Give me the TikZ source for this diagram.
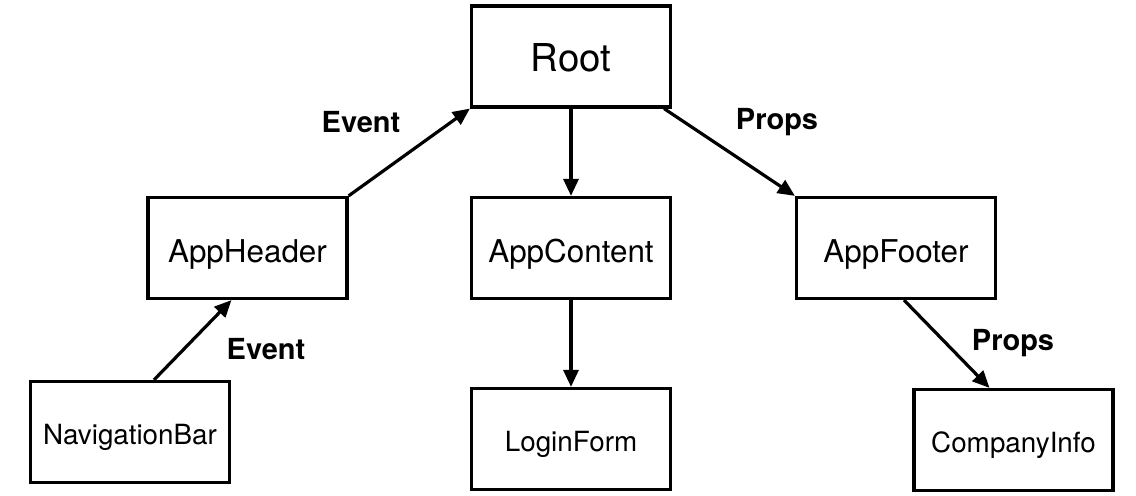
\documentclass[tikz,border=0pt]{standalone}
\usepackage{fontspec}
\setmainfont{TeX Gyre Heros}
\usetikzlibrary{arrows.meta}
\begin{document}
\begin{tikzpicture}[x=0.5pt,y=0.5pt,line width=1.6pt,
	comp/.style={draw,rectangle,minimum width=99.5pt,minimum height=50.5pt,inner sep=0pt,text depth=0pt},
	top/.style={font=\fontsize{19.2}{23}\selectfont,text height=15.5pt},
	mid/.style={font=\fontsize{15.7}{19}\selectfont,text height=15pt},
	low/.style={font=\fontsize{13.9}{17}\selectfont,text height=13pt},
	lbl/.style={font=\bfseries\fontsize{14.5}{17}\selectfont},
	flow/.style={-{Triangle[length=8.5pt,width=7.5pt]}}]
	\useasboundingbox (0,0) rectangle (1136,496);
	% components
	\node[comp,top] (root) at (571,439.5){Root};
	\node[comp,mid] (hdr) at (247.5,248){AppHeader};
	\node[comp,mid] (cnt) at (571,248){AppContent};
	\node[comp,mid] (ftr) at (896,248){AppFooter};
	\node[comp,low] (nav) at (130,64){NavigationBar};
	\node[comp,low] (login) at (571,57){LoginForm};
	\node[comp,low] (info) at (1013.5,56){CompanyInfo};
	% labels
	\node[lbl] (ev1) at (361,374){Event};
	\node[lbl] (pr1) at (777,374){Props};
	\node[lbl] (ev2) at (266,147){Event};
	\node[lbl] (pr2) at (1013,153){Props};
	\draw[flow] (hdr.north east)--(root.south west);
	\draw[flow] (root.south)--(cnt.north);
	\draw[flow] ([xshift=-4pt]root.south east)--(ftr.north west);
	\draw[flow] ([xshift=12pt]nav.north)--([xshift=-8pt]hdr.south);
	\draw[flow] (cnt.south)--(login.north);
	\draw[flow] ([xshift=4pt]ftr.south)--([xshift=-12pt]info.north);
\end{tikzpicture}
\end{document}
